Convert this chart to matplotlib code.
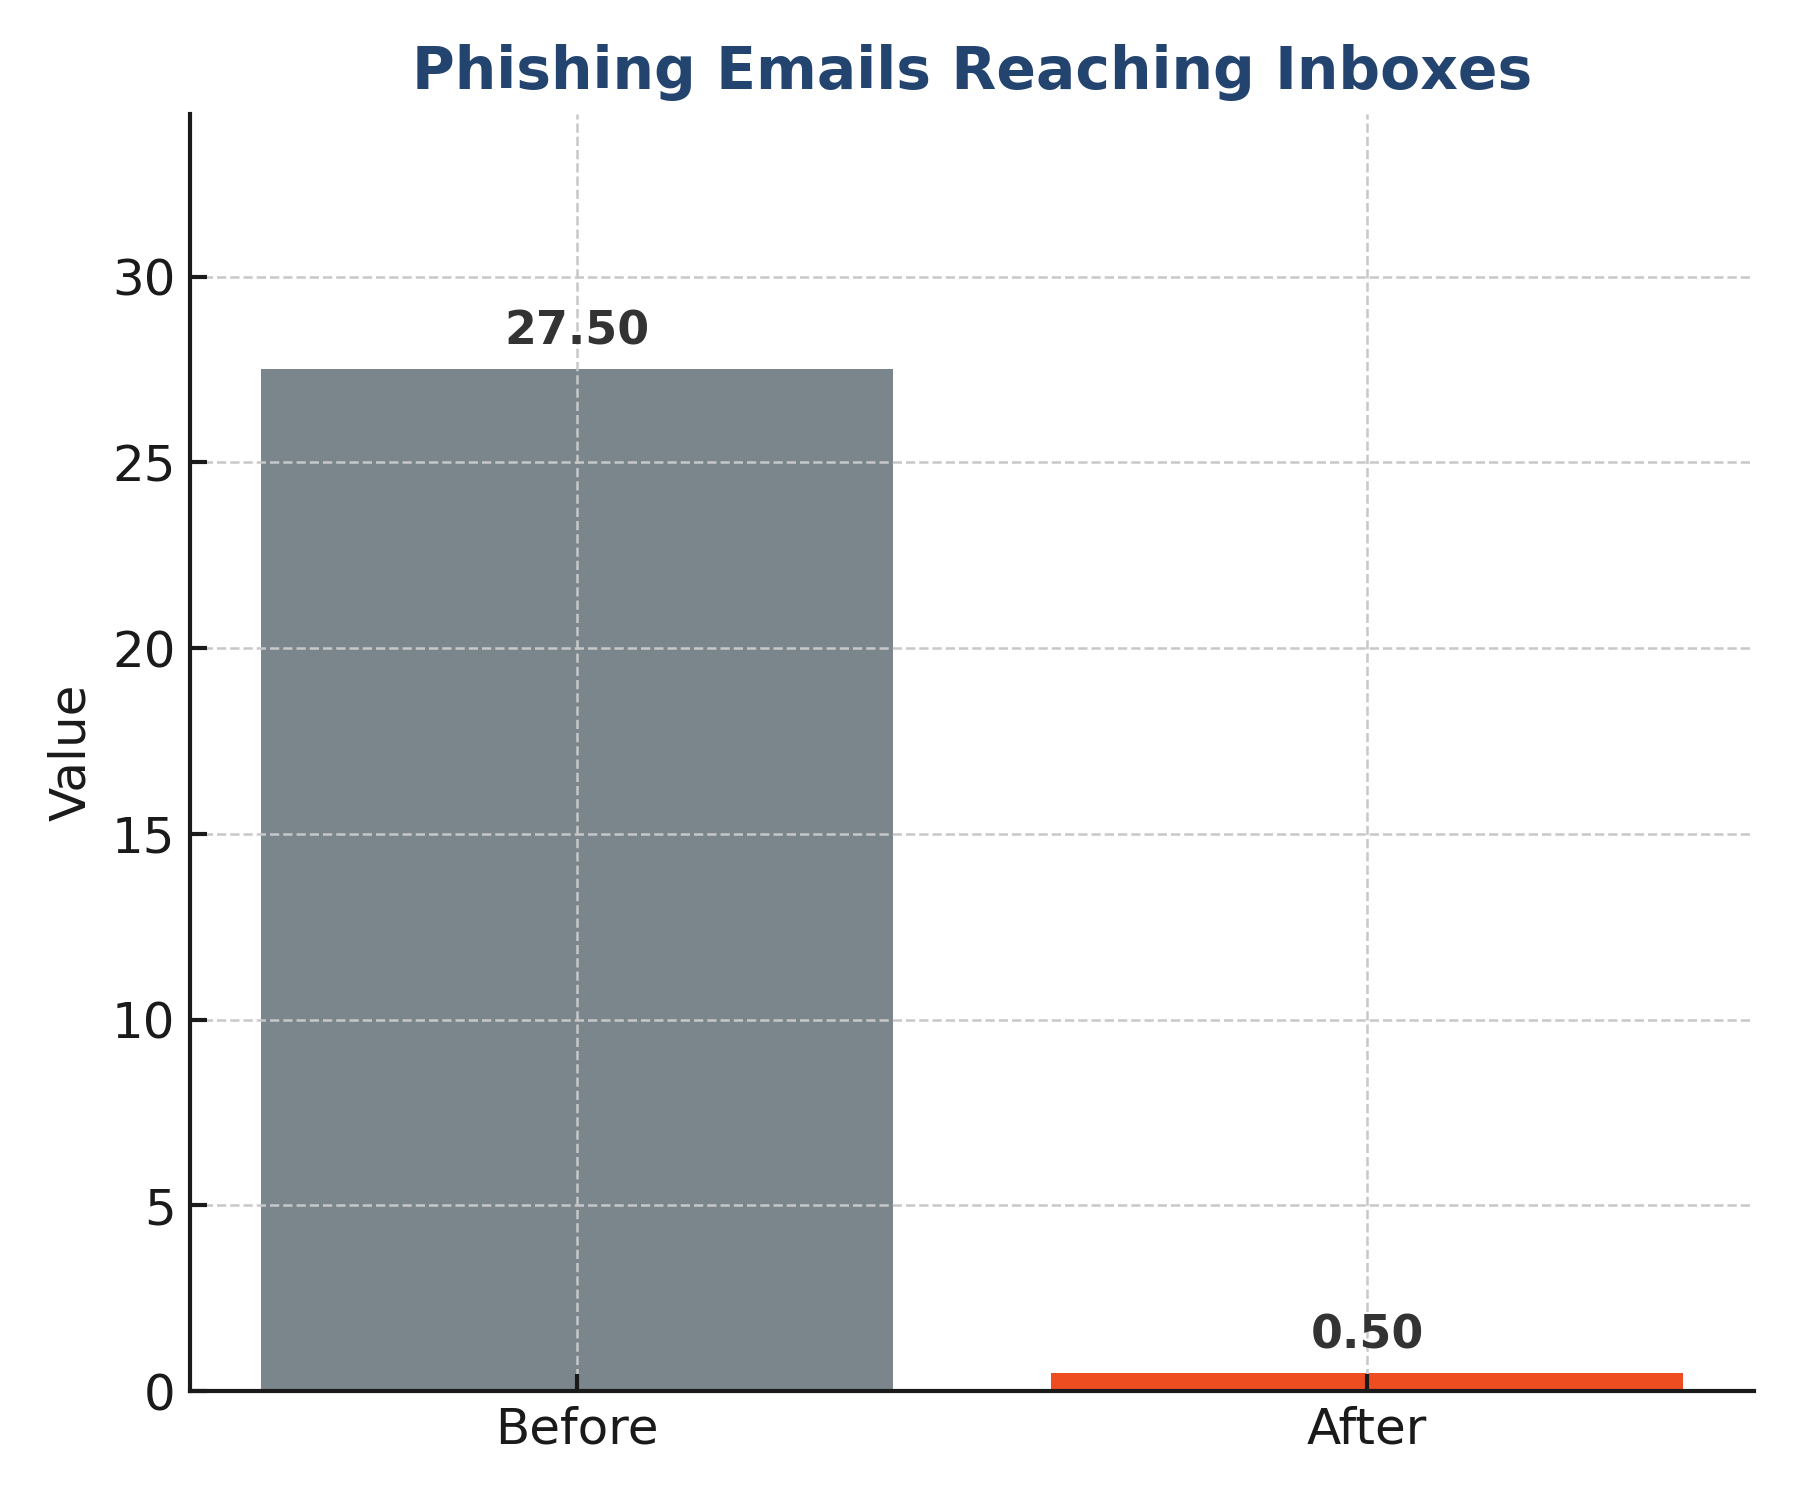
import numpy as np
import matplotlib
matplotlib.use("Agg")
import matplotlib.pyplot as plt

# datos del gráfico
categories = ["Before", "After"]
values = [27.5, 0.5]
bar_colors = ["#7B868C", "#EE4D22"]

fig, ax = plt.subplots(figsize=(6, 5), dpi=300)
fig.subplots_adjust(left=0.1056, right=0.9745, bottom=0.0725, top=0.924)

x = np.arange(len(categories))
bars = ax.bar(x, values, width=0.8, color=bar_colors)

# etiquetas de valor encima de cada barra
for b, v in zip(bars, values):
    ax.annotate(f"{v:.2f}", (b.get_x() + b.get_width() / 2, v),
                xytext=(0, 3.5), textcoords="offset points",
                ha="center", va="bottom", fontsize=11, fontweight="bold",
                color="#333333")

ax.set_xticks(x)
ax.set_xticklabels(categories)
ax.set_ylim(0, max(values) * 1.25)
ax.set_ylabel("Value", fontsize=12, color="#1a1a1a")
ax.set_title("Phishing Emails Reaching Inboxes", fontsize=14,
             fontweight="bold", color="#23446F")

ax.tick_params(axis="both", labelsize=12, direction="in", length=4,
               width=1, colors="#1a1a1a")
ax.grid(True, linestyle="--", linewidth=0.6, color="#c8c8c8")

for side in ["top", "right"]:
    ax.spines[side].set_visible(False)
for side in ["left", "bottom"]:
    ax.spines[side].set_linewidth(1)
    ax.spines[side].set_color("#1a1a1a")

fig.savefig("out.png", dpi=300)
